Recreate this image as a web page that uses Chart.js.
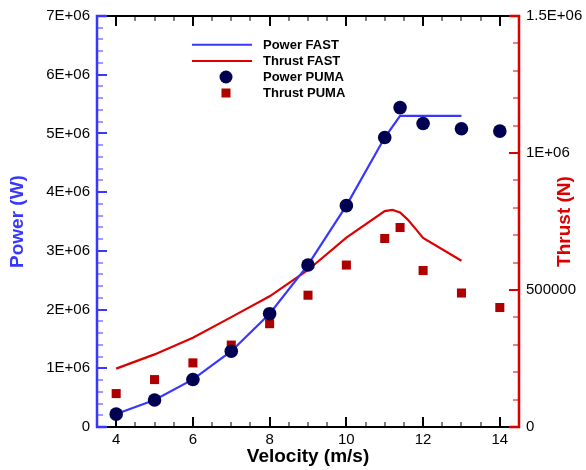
<!DOCTYPE html>
<html>
<head>
<meta charset="utf-8">
<script src="https://cdn.jsdelivr.net/npm/chart.js@4"></script>
<style>
html,body{margin:0;padding:0;background:#fff;}
#wrap{width:586px;height:470px;position:relative;}
</style>
</head>
<body>
<div id="wrap"><canvas id="c" width="586" height="470"></canvas></div>
<script>
// ---- data ----
const powerFastVelocity = [4, 5, 6, 7, 8, 9, 10, 11, 11.4, 12, 13];
const powerFast = [0.22e6, 0.46e6, 0.81e6, 1.29e6, 1.93e6, 2.76e6, 3.77e6, 4.93e6, 5.30e6, 5.30e6, 5.30e6];

const thrustFastVelocity = [4, 5, 6, 7, 8, 9, 10, 11, 11.2, 11.4, 11.6, 11.8, 12, 13];
const thrustFast = [213000, 265000, 326000, 401000, 477000, 573000, 691000, 788000, 792000, 783000, 757000, 724000, 690000, 607000];

const pumaVelocity = [4, 5, 6, 7, 8, 9, 10, 11, 11.4, 12, 13, 14];
const powerPuma = [0.22e6, 0.46e6, 0.81e6, 1.29e6, 1.93e6, 2.76e6, 3.77e6, 4.93e6, 5.44e6, 5.17e6, 5.08e6, 5.04e6];
const thrustPuma = [122000, 173000, 234000, 299000, 377000, 481000, 591000, 688000, 728000, 571000, 489000, 436000];

const seriesLabels = ['Power FAST', 'Thrust FAST', 'Power PUMA', 'Thrust PUMA'];
const xTickLabels = [4, 6, 8, 10, 12, 14];
const powerTickLabels = [0, 1e6, 2e6, 3e6, 4e6, 5e6, 6e6, 7e6];
const thrustTickLabels = [0, 500000, 1000000, 1500000];
const thrustTitle = 'Thrust (N)';

const FONT = "'Liberation Sans', Arial, Helvetica, sans-serif";
const BLUE = 'rgb(55,55,255)';
const RED = 'rgb(220,0,0)';
const NAVY = 'rgb(0,0,80)';
const DARKRED = 'rgb(175,0,0)';

const pts = (xs, ys) => xs.map((x, i) => ({x: x, y: ys[i]}));

function fmtPower(v) {
  if (v === 0) return '0';
  return (v / 1e6) + 'E+06';
}
function fmtThrust(v) {
  if (v === 0) return '0';
  if (v >= 1e6) return (v / 1e6) + 'E+06';
  return String(v);
}

const framePlugin = {
  id: 'frame',
  beforeDatasetsDraw(chart) {
    const ctx = chart.ctx;
    const xs = chart.scales.x, yl = chart.scales.y, yr = chart.scales.y2;
    const a = chart.chartArea;
    const L = a.left, R = a.right, T = a.top, B = a.bottom;
    const xA = xs.getPixelForValue(3.75), xB = xs.getPixelForValue(14.25);
    ctx.save();
    ctx.lineCap = 'butt';
    ctx.strokeStyle = '#000';
    for (let v = 4; v <= 14.001; v += 0.5) {
      const px = Math.round(xs.getPixelForValue(v));
      const major = Math.abs(v / 2 - Math.round(v / 2)) < 1e-6;
      const len = major ? 10 : 5;
      ctx.lineWidth = major ? 2 : 1;
      ctx.beginPath();
      ctx.moveTo(px, B); ctx.lineTo(px, B - len);
      ctx.moveTo(px, T); ctx.lineTo(px, T + len);
      ctx.stroke();
    }
    ctx.lineWidth = 2;
    ctx.beginPath();
    ctx.moveTo(xA, B); ctx.lineTo(xB, B);
    ctx.moveTo(xA, T); ctx.lineTo(xB, T);
    ctx.stroke();
    ctx.strokeStyle = BLUE;
    for (let v = 0; v <= 7e6 + 1; v += 2e5) {
      const py = Math.round(yl.getPixelForValue(v));
      const major = (Math.round(v) % 1000000) === 0;
      ctx.lineWidth = major ? 2 : 1;
      ctx.beginPath();
      ctx.moveTo(L, py); ctx.lineTo(L + (major ? 10 : 6), py);
      ctx.stroke();
    }
    ctx.lineWidth = 2.5;
    ctx.beginPath();
    ctx.moveTo(xA, T); ctx.lineTo(L, T); ctx.lineTo(L, B); ctx.lineTo(xA, B);
    ctx.stroke();
    ctx.strokeStyle = RED;
    for (let v = 0; v <= 1.5e6 + 1; v += 1e5) {
      const py = Math.round(yr.getPixelForValue(v));
      const major = (Math.round(v) % 500000) === 0;
      ctx.lineWidth = major ? 2 : 1;
      ctx.beginPath();
      ctx.moveTo(R, py); ctx.lineTo(R - (major ? 10 : 6), py);
      ctx.stroke();
    }
    ctx.lineWidth = 2.5;
    ctx.beginPath();
    ctx.moveTo(xB, T); ctx.lineTo(R, T); ctx.lineTo(R, B); ctx.lineTo(xB, B);
    ctx.stroke();
    ctx.restore();
  },
  afterDraw(chart) {
    const ctx = chart.ctx;
    const ds = chart.data.datasets;
    const rows = [44.7, 61, 77, 93];
    ctx.save();
    ctx.font = 'bold 13px ' + FONT;
    ctx.textBaseline = 'middle';
    ctx.textAlign = 'left';
    ds.forEach((d, i) => {
      const y = rows[i];
      if (d.showLine) {
        ctx.strokeStyle = d.borderColor;
        ctx.lineWidth = 2;
        ctx.beginPath(); ctx.moveTo(192, y); ctx.lineTo(252, y); ctx.stroke();
      } else {
        ctx.fillStyle = d.pointBackgroundColor;
        if (d.pointStyle === 'rect') {
          ctx.fillRect(226 - 4.5, y - 4.5, 9, 9);
        } else {
          ctx.beginPath(); ctx.arc(226, y, 6.5, 0, Math.PI * 2); ctx.fill();
        }
      }
      ctx.fillStyle = '#000';
      ctx.fillText(d.label, 263, y + 0.5);
    });
    // right axis title, reading bottom-to-top like the reference
    const yr = chart.scales.y2;
    ctx.translate(565, (yr.top + yr.bottom) / 2);
    ctx.rotate(-Math.PI / 2);
    ctx.font = 'bold 19px ' + FONT;
    ctx.fillStyle = RED;
    ctx.textAlign = 'center';
    ctx.textBaseline = 'middle';
    ctx.fillText(thrustTitle, 0, 0);
    ctx.restore();
  }
};

new Chart(document.getElementById('c'), {
  type: 'scatter',
  data: {
    datasets: [
      {label: seriesLabels[0], data: pts(powerFastVelocity, powerFast), yAxisID: 'y', showLine: true,
       borderColor: BLUE, borderWidth: 2.2, pointRadius: 0, tension: 0, order: 3},
      {label: seriesLabels[1], data: pts(thrustFastVelocity, thrustFast), yAxisID: 'y2', showLine: true,
       borderColor: RED, borderWidth: 2.2, pointRadius: 0, tension: 0, order: 4},
      {label: seriesLabels[2], data: pts(pumaVelocity, powerPuma), yAxisID: 'y', showLine: false,
       pointStyle: 'circle', pointRadius: 6.8, pointBackgroundColor: NAVY, pointBorderWidth: 0, borderColor: NAVY, order: 1},
      {label: seriesLabels[3], data: pts(pumaVelocity, thrustPuma), yAxisID: 'y2', showLine: false,
       pointStyle: 'rect', pointRadius: 6.4, pointBackgroundColor: DARKRED, pointBorderWidth: 0, borderColor: DARKRED, order: 2}
    ]
  },
  options: {
    responsive: false,
    animation: false,
    devicePixelRatio: 1,
    layout: {padding: {top: 14, left: 0, right: 0, bottom: 0}},
    plugins: {legend: {display: false}, tooltip: {enabled: false}},
    scales: {
      x: {
        type: 'linear', min: 3.5, max: 14.5, position: 'bottom',
        grid: {display: false, drawTicks: false}, border: {display: false},
        afterBuildTicks(s) { s.ticks = xTickLabels.map(v => ({value: v})); },
        afterFit(s) { s.height = 43; },
        ticks: {color: '#000', font: {family: FONT, size: 15}, padding: 4, maxRotation: 0, autoSkip: false},
        title: {display: true, text: 'Velocity (m/s)', color: '#000', font: {family: FONT, size: 19, weight: 'bold', lineHeight: 1.2}, padding: {top: 0, bottom: 1.6}}
      },
      y: {
        type: 'linear', min: 0, max: 7e6, position: 'left',
        grid: {display: false, drawTicks: false}, border: {display: false},
        afterBuildTicks(s) { s.ticks = powerTickLabels.map(v => ({value: v})); },
        afterFit(s) { s.width = 97; },
        ticks: {color: '#000', font: {family: FONT, size: 15}, padding: 7, autoSkip: false, callback: v => fmtPower(v)},
        title: {display: true, text: 'Power (W)', color: BLUE, font: {family: FONT, size: 19, weight: 'bold', lineHeight: 1.2}, padding: {top: 6.6, bottom: 0}}
      },
      y2: {
        type: 'linear', min: 0, max: 1.5e6, position: 'right',
        grid: {display: false, drawTicks: false}, border: {display: false},
        afterBuildTicks(s) { s.ticks = thrustTickLabels.map(v => ({value: v})); },
        afterFit(s) { s.width = 67; },
        ticks: {color: '#000', font: {family: FONT, size: 15}, padding: 7, autoSkip: false, callback: v => fmtThrust(v)},
        title: {display: false}
      }
    }
  },
  plugins: [framePlugin]
});
</script>
</body>
</html>
